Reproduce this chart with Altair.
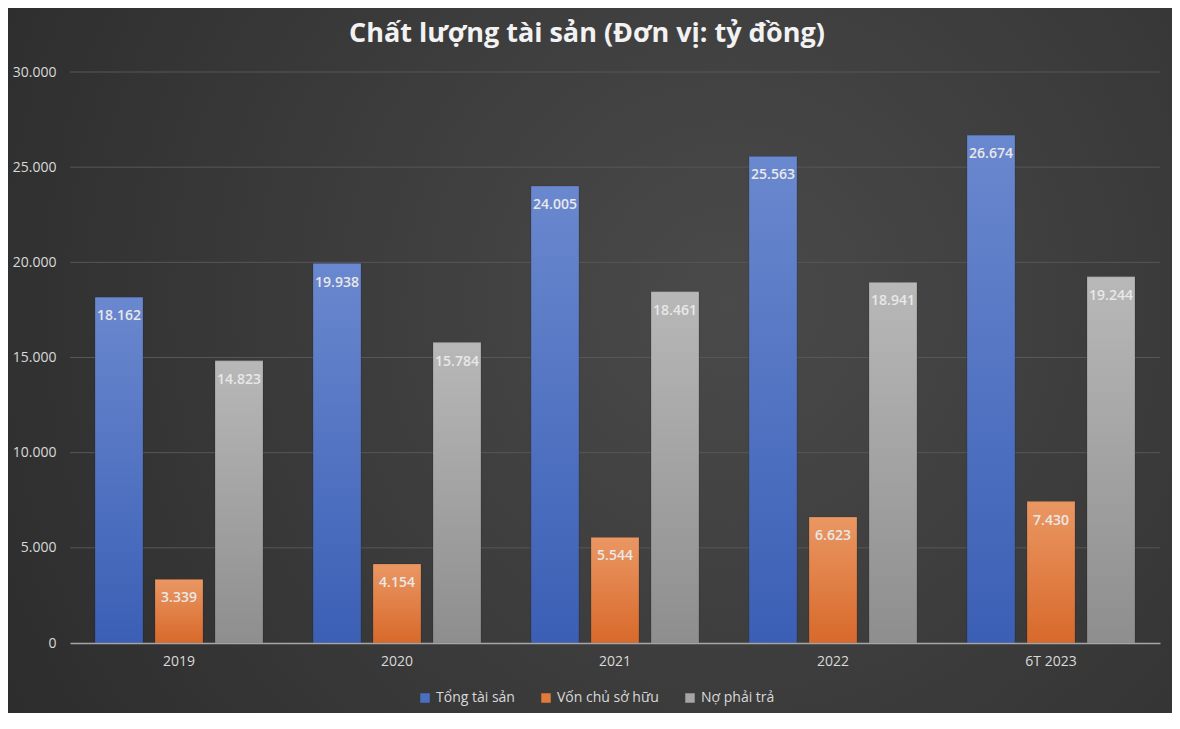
import altair as alt
import pandas as pd

years = ["2019", "2020", "2021", "2022", "6T 2023"]
series = ["Tổng tài sản", "Vốn chủ sở hữu", "Nợ phải trả"]
tong_tai_san = [18162, 19938, 24005, 25563, 26674]
von_chu_so_huu = [3339, 4154, 5544, 6623, 7430]
no_phai_tra = [14823, 15784, 18461, 18941, 19244]
y_ticks = [0, 5000, 10000, 15000, 20000, 25000, 30000]
solid_colors = ["#4a6fc2", "#e07b39", "#a5a5a5"]
gradients = [("#6a88cf", "#3b5fb5"), ("#ea9763", "#d8692b"), ("#b8b8b8", "#8e8e8e")]

rows = []
for s, vals in zip(series, [tong_tai_san, von_chu_so_huu, no_phai_tra]):
    for y, v in zip(years, vals):
        rows.append({"year": y, "series": s, "value": v,
                     "label": f"{v:,}".replace(",", ".")})
df = pd.DataFrame(rows)
grid_df = pd.DataFrame({"v": y_ticks[1:]})

FONT = "Open Sans"
W, H = 1090, 571
PAD = {"left": 62, "top": 64, "right": 12, "bottom": 70}

x_enc = alt.X("year:N", sort=years,
              scale=alt.Scale(domain=years, paddingInner=0.2294, paddingOuter=0.1147),
              axis=alt.Axis(title=None, labelAngle=0, ticks=False, domainColor="#a6a6a6",
                            domainWidth=1.5, labelColor="#d9d9d9", labelFontSize=14,
                            labelFont=FONT, labelPadding=11, zindex=1))
xo_enc = alt.XOffset("series:N", sort=series,
                     scale=alt.Scale(domain=series, paddingInner=0.2, paddingOuter=0))
y_scale = alt.Scale(domain=[0, 30000], nice=False)
y_enc = alt.Y("value:Q", scale=y_scale,
              axis=alt.Axis(title=None, values=y_ticks, grid=False, domain=False, ticks=False,
                            labelExpr="replace(format(datum.value, ','), ',', '.')",
                            labelColor="#d9d9d9", labelFontSize=14, labelFont=FONT,
                            labelPadding=14, zindex=1))

bg = alt.Chart(alt.Data(values=[{}])).mark_rect(
    color={"gradient": "radial", "x1": 0.62, "y1": 0.45, "x2": 0.62, "y2": 0.45,
           "r1": 0, "r2": 0.75,
           "stops": [{"offset": 0, "color": "#4a4a4a"}, {"offset": 1, "color": "#2b2b2b"}]}
).encode(x=alt.value(-PAD["left"]), x2=alt.value(W + PAD["right"]),
         y=alt.value(-PAD["top"]), y2=alt.value(H + PAD["bottom"]))

grid = alt.Chart(grid_df).mark_rule(color="#575757", strokeWidth=1).encode(
    y=alt.Y("v:Q", scale=y_scale))

base_bars = alt.Chart(df).mark_bar().encode(
    x=x_enc, xOffset=xo_enc, y=y_enc,
    color=alt.Color("series:N", sort=series,
                    scale=alt.Scale(domain=series, range=solid_colors),
                    legend=alt.Legend(title=None, orient="none", direction="horizontal",
                                      legendX=348, legendY=619, symbolType="square",
                                      symbolSize=90, symbolStrokeWidth=0,
                                      labelColor="#d9d9d9", labelFontSize=14,
                                      labelFont=FONT, labelOffset=4, columnPadding=24)))

grad_layers = []
for s, (top, bot) in zip(series, gradients):
    grad_layers.append(
        alt.Chart(df).transform_filter(alt.datum.series == s).mark_bar(
            color={"gradient": "linear", "x1": 0, "y1": 0, "x2": 0, "y2": 1,
                   "stops": [{"offset": 0, "color": top}, {"offset": 1, "color": bot}]},
            stroke="#000000", strokeOpacity=0.15, strokeWidth=1
        ).encode(x=alt.X("year:N", sort=years), xOffset=alt.XOffset("series:N", sort=series),
                 y=alt.Y("value:Q", scale=y_scale))
    )

labels = alt.Chart(df).mark_text(
    baseline="middle", dy=19, color="#e8e8e8", fontSize=14, fontWeight=600, font=FONT
).encode(x=alt.X("year:N", sort=years), xOffset=alt.XOffset("series:N", sort=series),
         y=alt.Y("value:Q", scale=y_scale), text="label:N")

chart = alt.layer(bg, grid, base_bars, *grad_layers, labels).properties(
    width=W, height=H,
    title=alt.Title("Chất lượng tài sản (Đơn vị: tỷ đồng)", font=FONT, fontSize=27,
                    fontWeight="bold", color="#f2f2f2", anchor="middle", offset=-40,
                    dx=-28),
    autosize=alt.AutoSizeParams(type="none"),
    padding=PAD,
).configure_view(stroke=None).configure(background="#333333")

chart.save("out.html", embed_options={"renderer": "svg", "actions": False})
